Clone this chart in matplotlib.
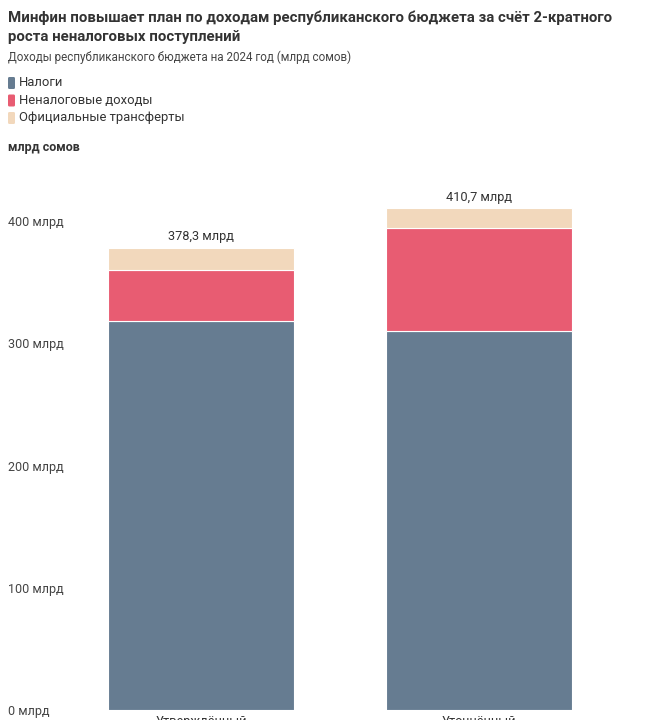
import matplotlib
matplotlib.use("Agg")
import matplotlib.pyplot as plt
from matplotlib.patches import FancyBboxPatch
import numpy as np

plt.rcParams["font.family"] = ["Roboto", "DejaVu Sans"]

CATS = ["Утверждённый", "Уточнённый"]
TAXES = [318.6, 310.1]
NONTAX = [41.5, 84.6]
TRANSFERS = [18.2, 16.0]
TOTALS = ["378,3 млрд", "410,7 млрд"]
SERIES = ["Налоги", "Неналоговые доходы", "Официальные трансферты"]
YTICKS = [0, 100, 200, 300, 400]

BLUE, PINK, TAN = "#667c91", "#e85c72", "#f2d8bc"
INK, SUB = "#333333", "#444444"

W, H = 656, 720
fig = plt.figure(figsize=(W / 100, H / 100), dpi=100)
fig.patch.set_facecolor("white")

ax = fig.add_axes([60 / W, 10 / H, 560 / W, 550 / H])
x = np.arange(len(CATS))
bw = 0.669
ax.bar(x, TAXES, bw, color=BLUE, edgecolor="white", lw=0.8)
ax.bar(x, NONTAX, bw, bottom=TAXES, color=PINK, edgecolor="white", lw=0.8)
bot2 = np.array(TAXES) + np.array(NONTAX)
ax.bar(x, TRANSFERS, bw, bottom=bot2, color=TAN, edgecolor="white", lw=0.8)
tops = bot2 + np.array(TRANSFERS)
for xi, t, lab in zip(x, tops, TOTALS):
    ax.annotate(lab, (xi, t), xytext=(0, 3), textcoords="offset points",
                ha="center", va="bottom", fontsize=9.2, color=INK)

ax.set_xlim(-0.507, 1.507)
ax.set_ylim(0, 450)
ax.set_yticks(YTICKS)
ax.set_yticklabels([f"{v} млрд" for v in YTICKS], fontsize=9, color=SUB)
for lbl in ax.get_yticklabels():
    lbl.set_horizontalalignment("left")
ax.tick_params(axis="y", length=0, pad=37.4)
ax.set_xticks(x)
ax.set_xticklabels(CATS, fontsize=9.2, color=INK)
ax.tick_params(axis="x", length=0, pad=3.5)
for s in ax.spines.values():
    s.set_visible(False)

# header
fig.text(8 / W, 1 - 18 / H, "Минфин повышает план по доходам республиканского бюджета за счёт 2-кратного",
         fontsize=10.8, fontweight="bold", color=INK, va="center")
fig.text(8 / W, 1 - 37 / H, "роста неналоговых поступлений",
         fontsize=10.8, fontweight="bold", color=INK, va="center")
fig.text(8 / W, 1 - 57 / H, "Доходы республиканского бюджета на 2024 год (млрд сомов)",
         fontsize=8.4, color=SUB, va="center")
for i, (name, col) in enumerate(zip(SERIES, [BLUE, PINK, TAN])):
    yc = 83 + i * 17.5
    fig.patches.append(FancyBboxPatch((8 / W, 1 - (yc + 6) / H), 7 / W, 12 / H,
                                      boxstyle="round,pad=0,rounding_size=0.002",
                                      transform=fig.transFigure, fc=col, ec="none"))
    fig.text(19 / W, 1 - yc / H, name, fontsize=9.4, color=INK, va="center")
fig.text(8 / W, 1 - 148 / H, "млрд сомов", fontsize=9, fontweight="bold", color=INK, va="center")

fig.savefig("out.png", dpi=100, facecolor="white")
